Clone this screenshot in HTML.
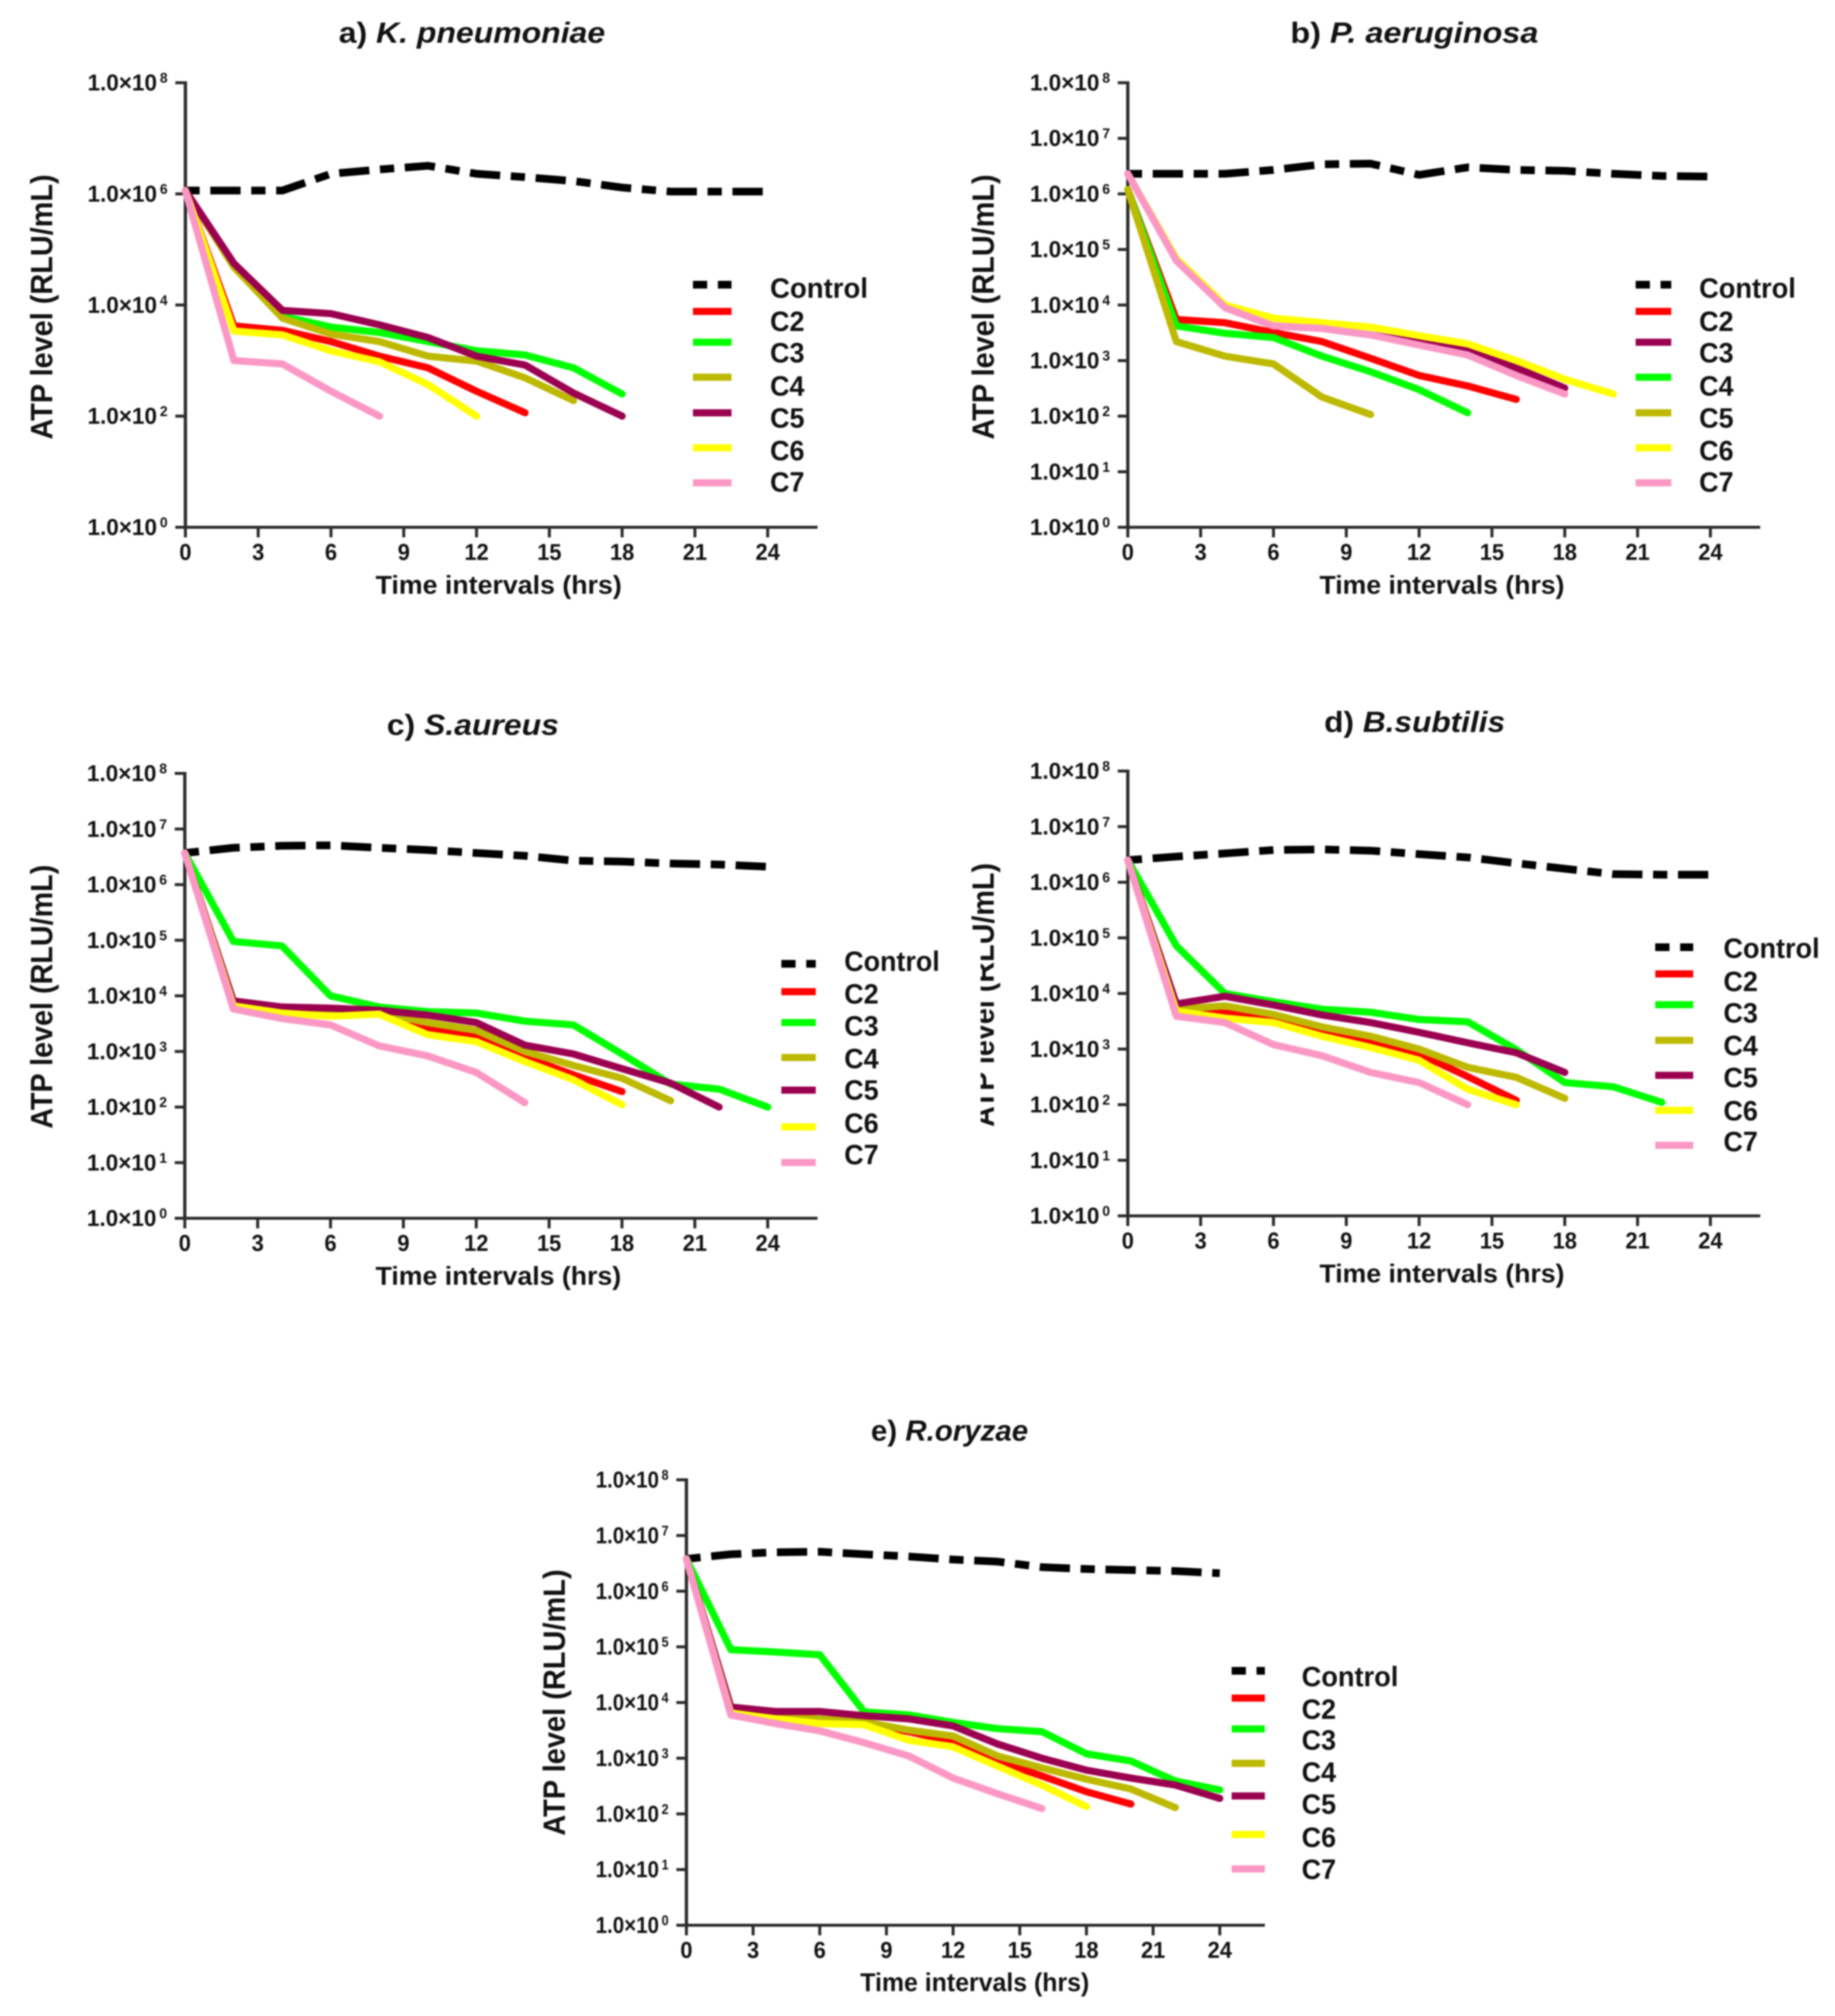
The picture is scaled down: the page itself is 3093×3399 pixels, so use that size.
<!DOCTYPE html>
<html lang="en">
<head>
<meta charset="utf-8">
<title>ATP level time-kill charts</title>
<style>
html,body{margin:0;padding:0;background:#fff;}
#figure{display:block;width:3093px;height:3399px;filter:blur(1.2px);}
text{font-family:"Liberation Sans",Arial,sans-serif;font-weight:700;fill:#111;}
</style>
</head>
<body>
<svg id="figure" xmlns="http://www.w3.org/2000/svg" width="3093" height="3399" viewBox="0 0 3093 3399">
<rect x="0" y="0" width="3093" height="3399" fill="#ffffff"/>
</svg>
<script>
// Shared categories and tick labels
const hours = [0, 2, 4, 6, 8, 10, 12, 14, 16, 18, 20, 22, 24];
const xTickLabels = [0, 3, 6, 9, 12, 15, 18, 21, 24];
const yExponentsSparse = [0, 2, 4, 6, 8];
const yExponentsFull = [0, 1, 2, 3, 4, 5, 6, 7, 8];
const legendLabels = ['Control', 'C2', 'C3', 'C4', 'C5', 'C6', 'C7'];

// a) K. pneumoniae
const aControl = [1.15e6, 1.15e6, 1.15e6, 2.3e6, 2.75e6, 3.2e6, 2.3e6, 2e6, 1.7e6, 1.3e6, 1.1e6, 1.1e6, 1.1e6];
const aC2 = [1.15e6, 4.2e3, 3.5e3, 2.2e3, 1.2e3, 7.4e2, 2.8e2, 1.15e2];
const aC3 = [1.15e6, 5.4e4, 6.3e3, 4e3, 3.2e3, 2.2e3, 1.5e3, 1.26e3, 7.4e2, 2.5e2];
const aC4 = [1.15e6, 4.8e4, 5.8e3, 3e3, 2.2e3, 1.2e3, 9.8e2, 4.9e2, 1.9e2];
const aC5 = [1.15e6, 5.6e4, 8e3, 7e3, 4.4e3, 2.6e3, 1.2e3, 8.3e2, 2.6e2, 1e2];
const aC6 = [1.15e6, 3.4e3, 2.9e3, 1.5e3, 9.5e2, 3.7e2, 1e2];
const aC7 = [1.15e6, 1e3, 8.7e2, 2.8e2, 1e2];

// b) P. aeruginosa
const bControl = [2.3e6, 2.3e6, 2.3e6, 2.7e6, 3.4e6, 3.5e6, 2.2e6, 3e6, 2.7e6, 2.6e6, 2.3e6, 2.1e6, 2.05e6];
const bC2 = [1.2e6, 5.5e3, 4.8e3, 3.2e3, 2.2e3, 1.1e3, 5.4e2, 3.5e2, 2e2];
const bC3 = [2.3e6, 6.5e4, 9e3, 4.2e3, 3.8e3, 2.9e3, 2.1e3, 1.55e3, 7.4e2, 3.2e2];
const bC4 = [1.2e6, 4.2e3, 3.1e3, 2.6e3, 1.2e3, 6.3e2, 3e2, 1.15e2];
const bC5 = [1.2e6, 2.2e3, 1.2e3, 8.7e2, 2.2e2, 1.07e2];
const bC6 = [2.3e6, 6.9e4, 1e4, 5.8e3, 4.8e3, 4e3, 2.8e3, 2e3, 1e3, 4.6e2, 2.5e2];
const bC7 = [2.3e6, 6.3e4, 9e3, 4.2e3, 3.8e3, 2.9e3, 1.9e3, 1.26e3, 5.4e2, 2.5e2];

// c) S. aureus
const cControl = [3.7e6, 4.6e6, 5e6, 5.1e6, 4.6e6, 4.2e6, 3.7e6, 3.3e6, 2.7e6, 2.6e6, 2.4e6, 2.3e6, 2.1e6];
const cC2 = [3.7e6, 6.5e3, 5e3, 4.7e3, 5e3, 2.5e3, 1.9e3, 7.9e2, 3.8e2, 1.9e2];
const cC3 = [3.7e6, 9.5e4, 7.9e4, 1e4, 6.3e3, 5.2e3, 4.9e3, 3.5e3, 3e3, 9e2, 2.6e2, 2.1e2, 1e2];
const cC4 = [3.7e6, 7e3, 5.5e3, 5.2e3, 5e3, 3.3e3, 2.4e3, 1e3, 5.6e2, 3.3e2, 1.3e2];
const cC5 = [3.7e6, 8.1e3, 6.3e3, 6e3, 5.5e3, 4.5e3, 3.3e3, 1.3e3, 9e2, 4.9e2, 2.7e2, 1e2];
const cC6 = [3.7e6, 6.6e3, 4.9e3, 4.3e3, 4.7e3, 2e3, 1.5e3, 6.6e2, 3.1e2, 1.1e2];
const cC7 = [3.7e6, 5.8e3, 3.9e3, 3e3, 1.26e3, 8.3e2, 4.2e2, 1.2e2];

// d) B. subtilis
const dControl = [2.5e6, 2.9e6, 3.3e6, 3.8e6, 3.9e6, 3.7e6, 3.2e6, 2.8e6, 2.2e6, 1.75e6, 1.4e6, 1.37e6, 1.37e6];
const dC2 = [2.5e6, 5e3, 4.4e3, 4e3, 1.95e3, 1.3e3, 8.2e2, 3.2e2, 1.2e2];
const dC3 = [2.5e6, 7.2e4, 1e4, 7.1e3, 5.2e3, 4.6e3, 3.4e3, 3.1e3, 9.8e2, 2.5e2, 2.1e2, 1.1e2];
const dC4 = [2.5e6, 5.2e3, 6e3, 4.2e3, 2.5e3, 1.7e3, 1e3, 4.7e2, 3.1e2, 1.3e2];
const dC5 = [2.5e6, 6.5e3, 8.9e3, 6.2e3, 4.1e3, 3e3, 2e3, 1.3e3, 8.6e2, 3.8e2];
const dC6 = [2.5e6, 4.8e3, 3.6e3, 3e3, 1.7e3, 1.07e3, 6.3e2, 1.9e2, 1e2];
const dC7 = [2.5e6, 3.9e3, 3e3, 1.2e3, 7.6e2, 3.8e2, 2.5e2, 1e2];

// e) R. oryzae
const eControl = [3.8e6, 4.6e6, 5e6, 5.1e6, 4.6e6, 4.2e6, 3.7e6, 3.4e6, 2.7e6, 2.5e6, 2.4e6, 2.3e6, 2.1e6];
const eC2 = [3.8e6, 6.8e3, 5.2e3, 4.8e3, 4.2e3, 3e3, 2e3, 8.9e2, 4.8e2, 2.5e2, 1.5e2];
const eC3 = [3.8e6, 8.9e4, 8.1e4, 7.2e4, 6.8e3, 6e3, 4.4e3, 3.4e3, 3e3, 1.2e3, 8.9e2, 3.9e2, 2.7e2];
const eC4 = [3.8e6, 7e3, 5.5e3, 5.1e3, 4.5e3, 3.2e3, 2.5e3, 1.1e3, 6.7e2, 4.2e2, 2.8e2, 1.3e2];
const eC5 = [3.8e6, 8.3e3, 6.9e3, 6.9e3, 5.8e3, 5.1e3, 3.8e3, 1.8e3, 1e3, 6.1e2, 4.4e2, 3.3e2, 1.9e2];
const eC6 = [3.8e6, 6.5e3, 5.1e3, 4.2e3, 4e3, 2.1e3, 1.6e3, 7.2e2, 3.3e2, 1.35e2];
const eC7 = [3.8e6, 6e3, 4.2e3, 3.1e3, 1.9e3, 1.1e3, 4.4e2, 2.3e2, 1.25e2];

const RED = '#ff0000', GREEN = '#00ff00', OLIVE = '#bdb900', MAROON = '#9b0050', YELLOW = '#ffff00', PINK = '#fb97c5';

const panels = [
  { key: 'a', prefix: 'a) ', species: 'K. pneumoniae',
    series: [aControl, aC2, aC3, aC4, aC5, aC6, aC7],
    colors: [RED, GREEN, OLIVE, MAROON, YELLOW, PINK], exps: yExponentsSparse,
    x0: 312.5, x24: 1294, xEnd: 1378, yTop: 139.5, yBot: 889,
    title: [571, 449, 72], xLabel: [633, 415, 1001], yLabel: [88, 741, 447], tickW: 135,
    legendX: [1168, 1233, 1298], legendY: [480, 525, 577, 636, 696, 755, 814], legendBase: [502, 558, 611, 667, 721, 776, 829], legendW: 165 },
  { key: 'b', prefix: 'b) ', species: 'P. aeruginosa',
    series: [bControl, bC2, bC3, bC4, bC5, bC6, bC7],
    colors: [RED, MAROON, GREEN, OLIVE, YELLOW, PINK], exps: yExponentsFull,
    x0: 1901, x24: 2883, xEnd: 2967, yTop: 139.5, yBot: 889,
    title: [2175, 418, 72], xLabel: [2224, 413, 1001], yLabel: [1675, 741, 447], tickW: 135,
    legendX: [2757, 2817, 2864], legendY: [480, 525, 577, 636, 696, 755, 814], legendBase: [502, 558, 611, 667, 721, 776, 829], legendW: 163 },
  { key: 'd', prefix: 'd) ', species: 'B.subtilis',
    series: [dControl, dC2, dC3, dC4, dC5, dC6, dC7],
    colors: [RED, GREEN, OLIVE, MAROON, YELLOW, PINK], exps: yExponentsFull,
    x0: 1901, x24: 2883, xEnd: 2967, yTop: 1300, yBot: 2050,
    title: [2232, 305, 1234], xLabel: [2224, 413, 2162], yLabel: [1675, 1900, 445], tickW: 135,
    legendX: [2790, 2854, 2905], legendY: [1597, 1642, 1694, 1754, 1813, 1872, 1931], legendBase: [1615, 1671, 1724, 1779, 1833, 1889, 1941], legendW: 162 },
  { key: 'c', prefix: 'c) ', species: 'S.aureus',
    series: [cControl, cC2, cC3, cC4, cC5, cC6, cC7],
    colors: [RED, GREEN, OLIVE, MAROON, YELLOW, PINK], exps: yExponentsFull,
    x0: 311.5, x24: 1294, xEnd: 1378, yTop: 1304, yBot: 2054,
    title: [652, 290, 1239], xLabel: [633, 414, 2166], yLabel: [88, 1903, 445], tickW: 135,
    legendX: [1317, 1375, 1423], legendY: [1625, 1672, 1724, 1783, 1838, 1900, 1960], legendBase: [1637, 1692, 1746, 1801, 1854, 1910, 1963], legendW: 161 },
  { key: 'e', prefix: 'e) ', species: 'R.oryzae',
    series: [eControl, eC2, eC3, eC4, eC5, eC6, eC7],
    colors: [RED, GREEN, OLIVE, MAROON, YELLOW, PINK], exps: yExponentsFull,
    x0: 1157, x24: 2056, xEnd: 2132, yTop: 2495, yBot: 3246,
    title: [1468, 265, 2429], xLabel: [1450, 386, 3357], yLabel: [952, 3095, 449], tickW: 123,
    legendX: [2076, 2132, 2194], legendY: [2817, 2863, 2915, 2973, 3028, 3093, 3151], legendBase: [2843, 2898, 2950, 3004, 3058, 3114, 3168], legendW: 163 }
];

const svg = document.getElementById('figure');
const NS = 'http://www.w3.org/2000/svg';
function make(tag, attrs, parent) {
  const el = document.createElementNS(NS, tag);
  for (const k in attrs) el.setAttribute(k, attrs[k]);
  parent.appendChild(el);
  return el;
}

panels.forEach(function (p) {
  const xScale = function (t) { return p.x0 + (t / 24) * (p.x24 - p.x0); };
  const yScale = function (v) { return p.yBot - (Math.log10(v) / 8) * (p.yBot - p.yTop); };

  const g = make('g', {}, svg);
  
  

  // title
  const title = make('text', { x: p.title[0], y: p.title[2], 'font-size': 49, textLength: p.title[1], lengthAdjust: 'spacingAndGlyphs' }, g);
  
  
  const t1 = make('tspan', {}, title);
  t1.textContent = p.prefix;
  const t2 = make('tspan', { 'font-style': 'italic' }, title);
  t2.textContent = p.species;

  // axes
  const yAxis = make('line', { x1: p.x0, x2: p.x0, y1: p.yTop - 2.5, y2: p.yBot + 2.5, stroke: '#2a2a2a', 'stroke-width': 5.5 }, g);
  
  
  const xAxis = make('line', { x1: p.x0, x2: p.xEnd, y1: p.yBot, y2: p.yBot, stroke: '#2a2a2a', 'stroke-width': 5 }, g);
  
  

  // y ticks
  p.exps.forEach(function (e) {
    const y = yScale(Math.pow(10, e));
    const tick = make('line', { x1: p.x0 - 17, x2: p.x0, y1: y, y2: y, stroke: '#2a2a2a', 'stroke-width': 5 }, g);
    
    
    const label = make('text', { x: p.x0 - 30 - p.tickW, y: y + 13, 'font-size': 39, textLength: p.tickW, lengthAdjust: 'spacingAndGlyphs' }, g);
    
    
    const base = make('tspan', {}, label);
    base.textContent = '1.0\u00d710';
    const sup = make('tspan', { dx: 5, dy: -13, 'font-size': 24 }, label);
    sup.textContent = String(e);
  });

  // x ticks
  xTickLabels.forEach(function (t) {
    const x = xScale(t);
    const tick = make('line', { x1: x, x2: x, y1: p.yBot, y2: p.yBot + 17, stroke: '#2a2a2a', 'stroke-width': 5 }, g);
    
    
    const label = make('text', { x: x, y: p.yBot + 55, 'font-size': 39, 'text-anchor': 'middle', textLength: String(t).length * 20.5, lengthAdjust: 'spacingAndGlyphs' }, g);
    
    
    label.textContent = String(t);
  });

  // axis titles
  const xt = make('text', { x: p.xLabel[0], y: p.xLabel[2], 'font-size': 44, textLength: p.xLabel[1], lengthAdjust: 'spacingAndGlyphs' }, g);
  
  
  xt.textContent = 'Time intervals (hrs)';
  const yt = make('text', { transform: 'translate(' + p.yLabel[0] + ',' + p.yLabel[1] + ') rotate(-90)', x: 0, y: 0, 'font-size': 52, textLength: p.yLabel[2], lengthAdjust: 'spacingAndGlyphs' }, g);
  
  
  yt.textContent = 'ATP level (RLU/mL)';

  // panel d's axis title is partly masked in the source figure
  if (p.key === 'd') {
    const mask = make('rect', { x: 1590, y: 1568, width: 63, height: 345, fill: '#ffffff' }, g);
    
    
  }

  // series
  p.series.forEach(function (values, i) {
    const d = values.map(function (v, j) {
      return (j ? 'L' : 'M') + xScale(hours[j]).toFixed(1) + ' ' + yScale(v).toFixed(1);
    }).join(' ');
    const isControl = i === 0;
    const attrs = isControl
      ? { d: d, fill: 'none', stroke: '#000000', 'stroke-width': 13, 'stroke-dasharray': '24 18 51 18', 'stroke-linejoin': 'round' }
      : { d: d, fill: 'none', stroke: p.colors[i - 1], 'stroke-width': 12, 'stroke-linejoin': 'round', 'stroke-linecap': 'round' };
    const line = make('path', attrs, g);
    
    
  });

  // legend
  legendLabels.forEach(function (name, i) {
    const y = p.legendY[i];
    const swatch = i === 0
      ? make('line', { x1: p.legendX[0], x2: p.legendX[1], y1: y, y2: y, stroke: '#000000', 'stroke-width': 13, 'stroke-dasharray': '24 18 30 18' }, g)
      : make('line', { x1: p.legendX[0], x2: p.legendX[1], y1: y, y2: y, stroke: p.colors[i - 1], 'stroke-width': 12 }, g);
    
    
    const attrs = { x: p.legendX[2], y: p.legendBase[i], 'font-size': 47, lengthAdjust: 'spacingAndGlyphs', textLength: i === 0 ? p.legendW : 58 };
    const text = make('text', attrs, g);
    
    
    text.textContent = name;
  });
});
</script>
</body>
</html>
